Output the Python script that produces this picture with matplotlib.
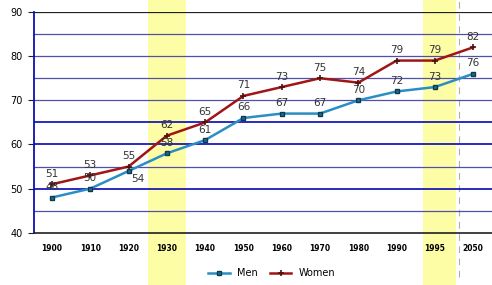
import numpy as np
import matplotlib.pyplot as plt

# data
years = ['1900', '1910', '1920', '1930', '1940', '1950', '1960', '1970', '1980', '1990', '1995', '2050']
men = [48, 50, 54, 58, 61, 66, 67, 67, 70, 72, 73, 76]
women = [51, 53, 55, 62, 65, 71, 73, 75, 74, 79, 79, 82]
highlight = ['1930', '1995']

x = np.arange(len(years))

fig = plt.figure(figsize=(4.92, 2.85), dpi=100)
ax = fig.add_axes([0.069, 0.183, 0.931, 0.775])

# yellow highlight bands running the full height of the figure
for yr in highlight:
    i = years.index(yr)
    if yr == '1995':
        lo, hi = i - 0.31, i + 0.55
    else:
        lo, hi = i - 0.5, i + 0.5
    ax.axvspan(lo, hi, ymin=-0.24, ymax=1.06, color='#fdfda6', lw=0, zorder=0, clip_on=False)

# break marker between 1995 and 2050
ax.axvline(10.63, ymin=-0.2, ymax=1.06, color='#b0b0a0', lw=0.8, ls=(0, (6, 5)), clip_on=False, zorder=1)

# horizontal grid lines
for yv in range(45, 90, 5):
    if yv in (50, 60, 65):
        ax.axhline(yv, color='#1a1ab8', lw=1.3, zorder=1)
    else:
        ax.axhline(yv, color='#5050a8', lw=0.9, zorder=1)
ax.axhline(90, color='#202020', lw=0.9, zorder=1)

ax.plot(x, women, color='#a01515', lw=1.8, marker='+', ms=4, mew=1.2, mec='#501010', label='Women', zorder=3)
ax.plot(x, men, color='#2a8ec4', lw=1.8, marker='s', ms=3.5, mfc='#1f6c88', mec='#0c3a50', label='Men', zorder=3)

for xi, v in zip(x, women):
    ax.annotate(str(v), (xi, v), xytext=(0, 4), textcoords='offset points',
                ha='center', va='bottom', fontsize=7.5, color='#333333', zorder=4)
for xi, v in zip(x, men):
    off = (7, -9) if years[xi] == '1920' else (0, 4)
    ax.annotate(str(v), (xi, v), xytext=off, textcoords='offset points',
                ha='center', va='bottom', fontsize=7.5, color='#333333', zorder=4)

ax.set_xlim(-0.47, 11.49)
ax.set_ylim(40, 90)
ax.set_yticks(range(40, 91, 10))
ax.set_xticks(x)
ax.set_xticklabels(years, fontsize=5.5, fontweight='bold')
ax.tick_params(axis='y', labelsize=7, length=4, color='#202020', pad=4)
ax.tick_params(axis='x', length=0, pad=8)

ax.spines['top'].set_visible(False)
ax.spines['right'].set_visible(False)
ax.spines['left'].set_color('#1010b0')
ax.spines['left'].set_linewidth(1.3)
ax.spines['bottom'].set_color('#202020')
ax.spines['bottom'].set_linewidth(1.2)
ax.patch.set_alpha(0)

handles, labels = ax.get_legend_handles_labels()
fig.legend(handles[::-1], labels[::-1], loc='center', bbox_to_anchor=(272 / 492, 1 - 273 / 285),
           ncol=2, frameon=False, fontsize=7, handlelength=2.2, columnspacing=1.2)

fig.savefig('out.png', dpi=100)
